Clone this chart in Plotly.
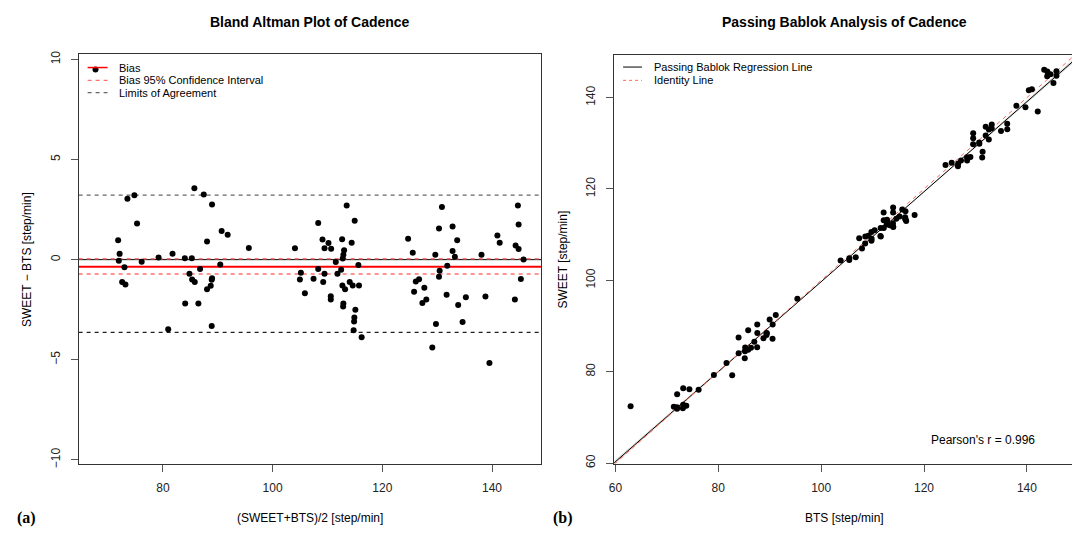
import plotly.graph_objects as go
import numpy as np

# Bland-Altman data: mean of methods and difference (SWEET - BTS)
ba_mean = [67.7, 71.83, 72.10, 71.95, 72.98, 72.56, 73.16, 73.52, 74.79, 75.28, 76.12, 79.20, 80.96, 81.75,
           83.99, 84.05, 85.26, 84.83, 85.32, 85.80, 85.73, 87.44, 86.46, 86.77, 88.04, 88.04, 88.71,
           88.89, 88.95, 88.95, 88.89, 90.45, 90.70, 91.80, 95.66, 104.07, 105.15, 104.97, 105.88,
           107.46, 108.31, 108.31, 109.22, 109.09, 109.46, 109.46, 110.18, 110.67, 110.60, 110.60,
           111.51, 111.82, 112.49, 112.67, 112.78, 112.90, 113.03, 112.72, 113.21, 112.90, 112.85,
           113.50, 114.05, 114.41, 114.60, 114.96, 115.08, 114.90, 114.85, 114.77, 115.63, 115.75,
           116.23, 124.70, 125.55, 125.79, 126.10, 126.70, 127.30, 127.66, 128.02, 129.11, 129.66,
           129.78, 130.33, 130.33, 130.45, 130.87, 131.72, 131.84, 132.81, 132.81, 133.23, 133.65,
           133.83, 134.63, 135.23, 138.08, 138.80, 139.53, 140.98, 141.40, 144.17, 144.30, 144.85,
           144.72, 144.85, 145.26, 145.75]
ba_diff = [9.50, 0.97, 0.29, -0.06, -0.38, -1.11, -1.24, 3.04, 3.22, 1.80, -0.11, 0.11, -3.48, 0.30,
           0.07, -2.19, 0.07, -0.71, -0.99, -1.12, 3.57, 3.26, -2.19, -0.47, 0.91, -1.48, -1.30,
           -1.01, -0.93, 2.75, -3.32, -0.24, 1.43, 1.25, 0.58, 0.57, -0.65, -0.99, -1.68,
           -0.96, 1.83, -0.47, -1.12, 1.01, 0.57, -0.70, 0.83, 0.55, -1.83, -1.99,
           -0.12, -0.70, -0.50, 1.02, 0.06, 0.24, 0.47, -1.29, -1.48, -2.19, -2.34,
           2.70, -1.11, 0.85, -1.29, 1.94, -2.50, -2.89, -3.09, -3.53, -0.27, -1.29,
           -3.88, 1.04, 0.35, -1.60, -1.09, -0.98, -2.16, -1.40, -1.99, -4.39, 0.24,
           -3.22, 1.55, -0.86, -0.55, 2.63, -1.75, -0.30, 1.65, 0.43, 0.14, 0.97,
           -2.27, -3.11, -1.88, 0.24, -1.84, -5.16, 1.21, 0.85, -1.99, 0.71, 0.53,
           2.71, 1.76, -0.97, 0.01]

# Summary statistics
bias = -0.35
bias_ci = [0.04, -0.72]
loa_upper = 3.22
loa_lower = -3.63

# Passing-Bablok regression parameters
pb_intercept = 1.2
pb_slope = 0.985
pb_slope_ci = [0.975, 0.995]
pearson_r = 0.996

ba_mean_a = np.array(ba_mean)
ba_diff_a = np.array(ba_diff)
bts = ba_mean_a - ba_diff_a / 2
sweet = ba_mean_a + ba_diff_a / 2

W, H = 1072, 539
def fx(px): return px / W
def fy(py): return 1 - py / H

LX_RANGE = [64.63, 149.02]
LY_RANGE = [-10.21, 10.26]
RX_RANGE = [59.75, 148.77]
RY_RANGE = [59.85, 149.34]

FONT = "Liberation Sans, Arial, Helvetica, sans-serif"

fig = go.Figure()

# Left: Bland-Altman points
fig.add_trace(go.Scatter(x=ba_mean, y=ba_diff, mode="markers", xaxis="x", yaxis="y",
                         marker=dict(color="black", size=6), showlegend=False, cliponaxis=True))

# Right: PB confidence band (bowtie)
xc = 105.0
yc = pb_intercept + pb_slope * xc
xs = np.array(RX_RANGE)
band1 = yc + pb_slope_ci[1] * (xs - xc)
band2 = yc + pb_slope_ci[0] * (xs - xc)
fig.add_trace(go.Scatter(x=xs, y=band1, mode="lines", line=dict(width=0, color="rgba(0,0,0,0)"),
                         xaxis="x2", yaxis="y2", showlegend=False, hoverinfo="skip"))
fig.add_trace(go.Scatter(x=xs, y=band2, mode="lines", line=dict(width=0, color="rgba(0,0,0,0)"),
                         fill="tonexty", fillcolor="rgba(200,200,200,0.6)",
                         xaxis="x2", yaxis="y2", showlegend=False, hoverinfo="skip"))
# PB line
fig.add_trace(go.Scatter(x=xs, y=pb_intercept + pb_slope * xs, mode="lines",
                         line=dict(color="black", width=1), xaxis="x2", yaxis="y2", showlegend=False))
# Identity line
fig.add_trace(go.Scatter(x=xs, y=xs, mode="lines",
                         line=dict(color="#FF6A50", width=1, dash="4px,4px"), xaxis="x2", yaxis="y2",
                         showlegend=False))
# Right points
fig.add_trace(go.Scatter(x=bts, y=sweet, mode="markers", xaxis="x2", yaxis="y2",
                         marker=dict(color="black", size=6), showlegend=False))

shapes = []
def hline(y, color, width, dash=None):
    d = dict(type="line", xref="x domain", yref="y", x0=0, x1=1, y0=y, y1=y,
             line=dict(color=color, width=width), layer="below")
    if dash:
        d["line"]["dash"] = dash
    shapes.append(d)

hline(0, "black", 1)
hline(bias, "#FF0000", 2)
hline(bias_ci[0], "#FF7070", 1.5, "4px,4px")
hline(bias_ci[1], "#FF7070", 1.5, "4px,4px")
hline(loa_upper, "#666666", 1.2, "4px,4px")
hline(loa_lower, "#222222", 1.2, "4px,4px")

# Manual legends
def leg_line(x0, x1, y, color, width, dash=None):
    d = dict(type="line", xref="paper", yref="paper", x0=fx(x0), x1=fx(x1), y0=fy(y), y1=fy(y),
             line=dict(color=color, width=width))
    if dash:
        d["line"]["dash"] = dash
    shapes.append(d)

leg_line(83, 103, 64.5, "#FF0000", 1.5)
leg_line(83, 103, 77.5, "#FF7070", 1.2, "4px,4px")
leg_line(83, 103, 90, "#666666", 1.2, "4px,4px")
leg_line(621, 640, 64, "black", 1)
leg_line(621, 640, 77.5, "#FF6A50", 1, "3px,3px")

annotations = []
def txt(x, y, s, size=12, xanchor="center", bold=False, angle=0, family=FONT, color="black"):
    annotations.append(dict(x=fx(x), y=fy(y), xref="paper", yref="paper", text=(f"<b>{s}</b>" if bold else s),
                            showarrow=False, xanchor=xanchor, yanchor="middle", textangle=angle,
                            font=dict(size=size, family=family, color=color)))

txt(113, 64.5, "Bias", 11, "left")
txt(113, 77.5, "Bias 95% Confidence Interval", 11, "left")
txt(113, 90, "Limits of Agreement", 11, "left")
txt(650.5, 64, "Passing Bablok Regression Line", 11, "left")
txt(650.5, 77.5, "Identity Line", 11, "left")

txt(306.5, 18, "Bland Altman Plot of Cadence", 14, bold=True)
txt(843, 18, "Passing Bablok Analysis of Cadence", 14, bold=True)
txt(306.5, 522, "(SWEET+BTS)/2 [step/min]", 12)
txt(843, 522, "BTS [step/min]", 12)
txt(22, 259, "SWEET \u2212 BTS [step/min]", 12, angle=-90)
txt(561, 259, "SWEET [step/min]", 12, angle=-90)
txt(983, 443, f"Pearson's r = {pearson_r}", 12)
txt(22, 522, "(a)", 16, family="Liberation Serif, Times New Roman, serif", bold=True)
txt(561, 522, "(b)", 16, family="Liberation Serif, Times New Roman, serif", bold=True)

axis_common = dict(showgrid=False, zeroline=False, showline=True, linecolor="#333333", linewidth=1,
                   ticks="outside", ticklen=7, tickcolor="#555555", tickwidth=1,
                   tickfont=dict(size=12, family=FONT, color="#222222"))

fig.update_layout(
    width=W, height=H, autosize=False,
    margin=dict(l=0, r=0, t=0, b=0),
    paper_bgcolor="white", plot_bgcolor="white",
    showlegend=False, hovermode=False,
    shapes=shapes, annotations=annotations,
    xaxis=dict(domain=[fx(74), fx(539)], range=LX_RANGE, tickvals=[80, 100, 120, 140], mirror=True,
               anchor="y", ticklabelstandoff=6, **axis_common),
    yaxis=dict(domain=[fy(467), fy(51)], range=LY_RANGE, tickvals=[-10, -5, 0, 5, 10], mirror=True,
               anchor="x", tickangle=-90, ticklabelstandoff=6, **axis_common),
    xaxis2=dict(domain=[fx(612), 1.0], range=RX_RANGE, tickvals=[60, 80, 100, 120, 140], mirror=True,
                anchor="y2", ticklabelstandoff=6, **axis_common),
    yaxis2=dict(domain=[fy(466.7), fy(51.7)], range=RY_RANGE, tickvals=[60, 80, 100, 120, 140], mirror=False,
                anchor="x2", tickangle=-90, ticklabelstandoff=6, **axis_common),
)

fig.write_html("out.html",
               config={"displayModeBar": False, "staticPlot": True},
               post_script="document.body.style.margin='0';document.body.style.padding='0';"
                           "document.body.style.overflow='hidden';")
